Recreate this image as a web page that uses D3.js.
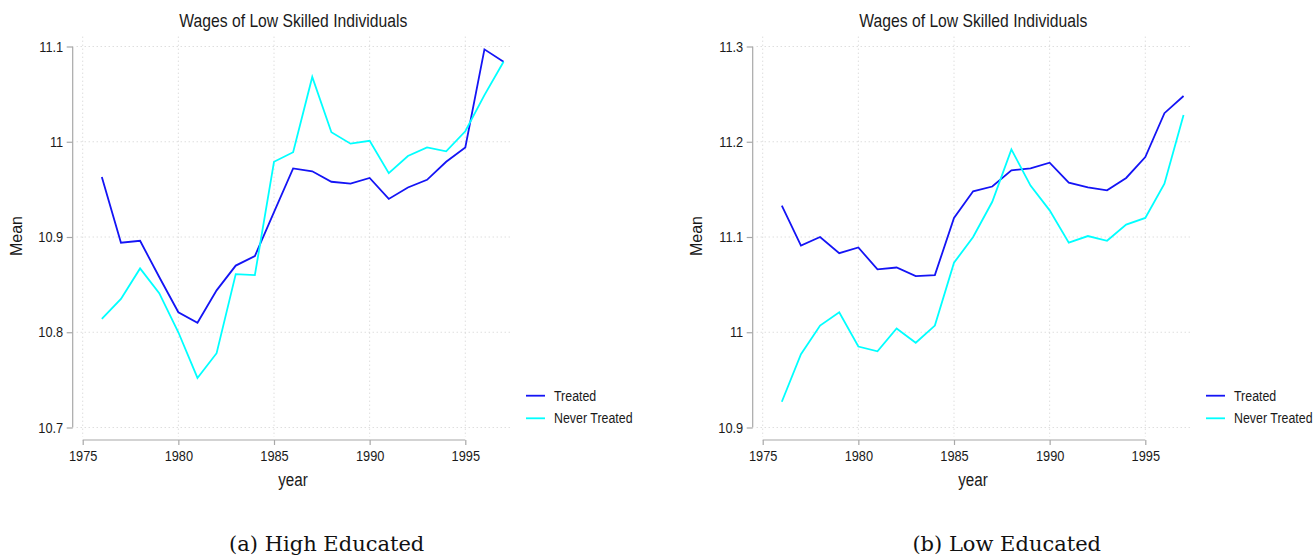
<!DOCTYPE html>
<html>
<head>
<meta charset="utf-8">
<script src="https://cdn.jsdelivr.net/npm/d3@7"></script>
<style>
  body { margin: 0; background: #fff; }
  svg { display: block; }
  .sans { font-family: "Liberation Sans", Arial, sans-serif; fill: #1a1a1a; }
  .cap { font-family: "DejaVu Serif", serif; fill: #111; }
</style>
</head>
<body>
<div id="chart"></div>
<script>

// data
var years = [1976, 1977, 1978, 1979, 1980, 1981, 1982, 1983, 1984, 1985, 1986,
             1987, 1988, 1989, 1990, 1991, 1992, 1993, 1994, 1995, 1996, 1997];

var highTreated = [10.963, 10.894, 10.896, 10.858, 10.821, 10.810, 10.844, 10.870, 10.880, 10.926, 10.972,
                   10.969, 10.958, 10.956, 10.962, 10.940, 10.952, 10.960, 10.979, 10.994, 11.097, 11.084];
var highNever   = [10.814, 10.835, 10.867, 10.841, 10.800, 10.752, 10.778, 10.861, 10.860, 10.979, 10.989,
                   11.068, 11.010, 10.998, 11.001, 10.967, 10.985, 10.994, 10.990, 11.011, 11.049, 11.084];

var lowTreated  = [11.133, 11.091, 11.100, 11.083, 11.089, 11.066, 11.068, 11.059, 11.060, 11.120, 11.148,
                   11.153, 11.170, 11.172, 11.178, 11.157, 11.152, 11.149, 11.162, 11.184, 11.230, 11.248];
var lowNever    = [10.927, 10.977, 11.007, 11.021, 10.985, 10.980, 11.004, 10.989, 11.007, 11.073, 11.100,
                   11.137, 11.192, 11.154, 11.128, 11.094, 11.101, 11.096, 11.113, 11.120, 11.156, 11.228];

var xTicks = [1975, 1980, 1985, 1990, 1995];
var highYTicks = [10.7, 10.8, 10.9, 11, 11.1];
var lowYTicks  = [10.9, 11, 11.1, 11.2, 11.3];

var seriesNames = ["Treated", "Never Treated"];
var seriesColors = ["#1414f5", "#00ffff"];

var chartTitle = "Wages of Low Skilled Individuals";
var captions = ["(a) High Educated", "(b) Low Educated"];

var W = 1315, H = 557;

var svg = d3.select("#chart").append("svg")
    .attr("width", W)
    .attr("height", H);

drawPanel(0, highTreated, highNever, highYTicks, captions[0]);
drawPanel(680, lowTreated, lowNever, lowYTicks, captions[1]);

function drawPanel(offset, treated, never, yTicks, caption) {

  var g = svg.append("g").attr("transform", "translate(" + offset + ",0)");

  // plot region (grid extends over it)
  var region = {left: 76.7, right: 512.7, top: 36.7, bottom: 437};

  var x = d3.scaleLinear().domain([1975, 1995]).range([82.7, 465.3]);
  var y = d3.scaleLinear().domain([yTicks[0], yTicks[yTicks.length - 1]]).range([427.5, 46.5]);

  // dotted grid
  g.selectAll("line.hgrid").data(yTicks).enter().append("line")
      .attr("class", "hgrid")
      .attr("x1", region.left).attr("x2", region.right)
      .attr("y1", function(d) { return y(d); })
      .attr("y2", function(d) { return y(d); })
      .attr("stroke", "#cfcfcf").attr("stroke-width", 1)
      .attr("stroke-dasharray", "1 3");

  g.selectAll("line.vgrid").data(xTicks).enter().append("line")
      .attr("class", "vgrid")
      .attr("y1", region.top).attr("y2", region.bottom)
      .attr("x1", function(d) { return x(d); })
      .attr("x2", function(d) { return x(d); })
      .attr("stroke", "#cfcfcf").attr("stroke-width", 1)
      .attr("stroke-dasharray", "1 3");

  // axes
  var yAxis = d3.axisLeft(y).tickValues(yTicks)
      .tickFormat(d3.format("~g"))
      .tickSize(6).tickPadding(3.5);
  var xAxis = d3.axisBottom(x).tickValues(xTicks)
      .tickFormat(d3.format("d"))
      .tickSize(5).tickPadding(5.4);

  var ya = g.append("g").attr("transform", "translate(72.7,0)").call(yAxis);
  var xa = g.append("g").attr("transform", "translate(0,440)").call(xAxis);

  [ya, xa].forEach(function(a) {
    a.select(".domain").attr("stroke", "#a8a8a8").attr("stroke-width", 1.2);
    a.selectAll(".tick line").attr("stroke", "#a8a8a8").attr("stroke-width", 1.2);
    a.selectAll(".tick text")
        .attr("class", "sans")
        .style("font-size", "12.8px")
        .attr("transform", "scale(1,1.1)");
  });
  // the domain path in d3 has end ticks; keep only the line
  ya.select(".domain").attr("d", "M0," + y(yTicks[yTicks.length - 1]) + "V" + y(yTicks[0]));
  xa.select(".domain").attr("d", "M" + x(xTicks[0]) + ",0H" + x(xTicks[xTicks.length - 1]));

  // lines
  var line = d3.line()
      .x(function(d, i) { return x(years[i]); })
      .y(function(d) { return y(d); });

  [treated, never].forEach(function(vals, k) {
    g.append("path")
        .datum(vals)
        .attr("d", line)
        .attr("fill", "none")
        .attr("stroke", seriesColors[k])
        .attr("stroke-width", 1.8)
        .attr("stroke-linejoin", "miter");
  });

  // title
  g.append("text")
      .attr("class", "sans")
      .attr("transform", "translate(293.3,26.7) scale(1,1.19)")
      .attr("text-anchor", "middle")
      .style("font-size", "15.7px")
      .text(chartTitle);

  // axis titles
  g.append("text")
      .attr("class", "sans")
      .attr("transform", "translate(21.7,236) rotate(-90)")
      .attr("text-anchor", "middle")
      .style("font-size", "16px")
      .text("Mean");

  g.append("text")
      .attr("class", "sans")
      .attr("transform", "translate(293,486) scale(1,1.25)")
      .attr("text-anchor", "middle")
      .style("font-size", "15.2px")
      .text("year");

  // legend
  var legY = [395.7, 418.3];
  seriesNames.forEach(function(name, k) {
    g.append("line")
        .attr("x1", 526).attr("x2", 545)
        .attr("y1", legY[k]).attr("y2", legY[k])
        .attr("stroke", seriesColors[k])
        .attr("stroke-width", 1.8);
    g.append("text")
        .attr("class", "sans")
        .attr("transform", "translate(554," + (legY[k] + 5) + ") scale(1,1.2)")
        .style("font-size", "12.4px")
        .text(name);
  });

  // caption
  g.append("text")
      .attr("class", "cap")
      .attr("x", 326.7).attr("y", 551)
      .attr("text-anchor", "middle")
      .style("font-size", "21px")
      .text(caption);
}

</script>
</body>
</html>
